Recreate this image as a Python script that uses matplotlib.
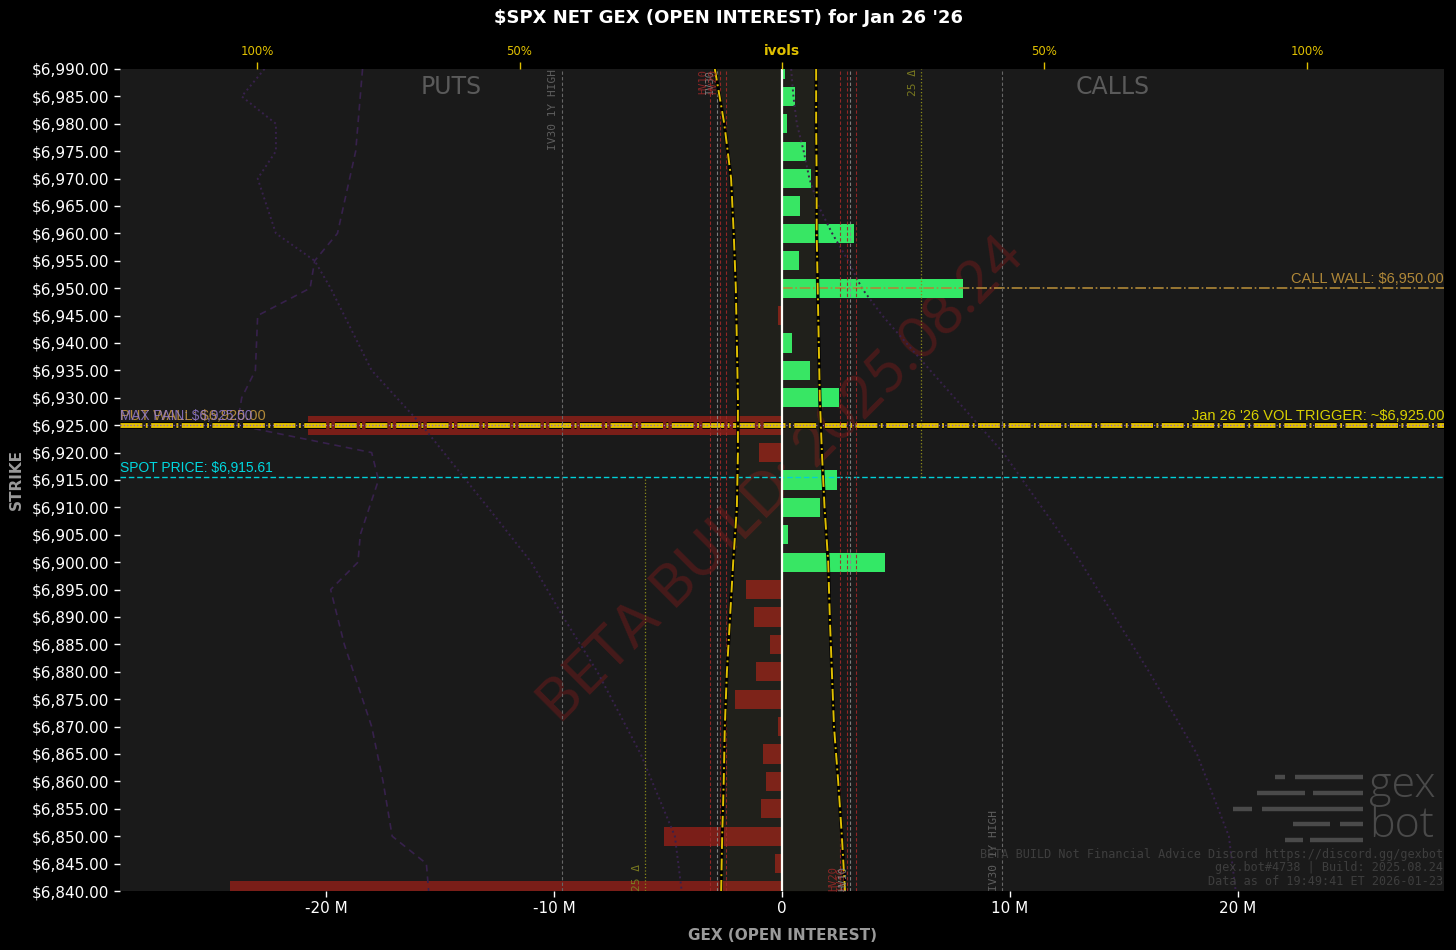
import matplotlib
matplotlib.use("Agg")
import matplotlib.pyplot as plt
import matplotlib.patheffects as pe
from matplotlib.lines import Line2D

plt.rcParams["text.parse_math"] = False

# net gex per strike, in millions
strikes = list(range(6990, 6835, -5))
gex = [0.14, 0.57, 0.23, 1.05, 1.26, 0.80, 3.17, 0.73, 7.94, -0.18,
       0.44, 1.23, 2.50, -20.8, -1.00, 2.41, 1.67, 0.26, 4.52, -1.58,
       -1.23, -0.53, -1.14, -2.06, -0.16, -0.85, -0.70, -0.92, -5.18, -0.31,
       -24.2]

# implied vols (percent), puts drawn to the left
iv_strikes = [6990, 6980, 6970, 6960, 6950, 6940, 6930, 6920,
              6910, 6900, 6890, 6880, 6870, 6860, 6850, 6840]
put_iv = [12.8, 11.0, 9.7, 9.2, 8.8, 8.6, 8.4, 8.4, 8.6, 9.3, 9.9, 10.5, 10.9, 11.1, 11.4, 11.6]
call_iv = [6.5, 6.5, 6.6, 6.6, 6.8, 7.0, 7.2, 7.6, 8.1, 8.8, 9.1, 9.5, 9.9, 10.7, 11.4, 12.0]

# faint purple profiles (millions)
dash_strikes = [6990, 6975, 6960, 6955, 6950, 6945, 6935, 6930, 6925, 6920, 6915,
                6905, 6900, 6895, 6885, 6880, 6870, 6860, 6850, 6845, 6840]
dash_vals = [-18.4, -18.7, -19.5, -20.5, -20.7, -23.0, -23.1, -23.7, -23.9, -18.0, -17.7,
             -18.5, -18.6, -19.8, -19.2, -18.8, -18.0, -17.5, -17.1, -15.6, -15.5]
dot_l_strikes = [6990, 6985, 6980, 6975, 6970, 6960, 6955, 6950, 6935, 6925,
                 6910, 6900, 6890, 6880, 6865, 6855, 6850, 6840]
dot_l_vals = [-22.7, -23.7, -22.2, -22.2, -23.0, -22.2, -20.5, -19.8, -18.0, -15.8,
              -12.9, -11.0, -9.6, -8.1, -6.2, -5.2, -4.7, -4.4]
dot_r_strikes = [6990, 6985, 6980, 6975, 6970, 6965, 6960, 6955, 6950, 6945,
                 6935, 6920, 6900, 6880, 6865, 6850, 6840]
dot_r_vals = [0.40, 0.50, 0.65, 0.95, 1.20, 1.60, 2.20, 2.90, 3.50, 4.40,
              6.50, 9.70, 13.1, 16.1, 18.2, 19.6, 19.9]

spot = 6915.61
call_wall = 6950
put_wall = 6925
max_pain = 6925
vol_trigger = 6925
iv30_1y_high = 42.0
delta25_put, delta25_call = -26.1, 26.5
put_vol_lines = [(-13.7, "#a02828", "HV10"), (-12.4, "#8a8a8a", "IV30"),
                 (-11.8, "#a02828", "HV20"), (-10.7, "#a02828", "")]
call_vol_lines = [(11.0, "#a02828", "HV20"), (12.4, "#a02828", "IV30"),
                  (13.0, "#8a8a8a", "HV10"), (14.1, "#a02828", "")]

BG = "#1a1a1a"
GREEN = "#33e866"
RED = "#7a1e18"
YEL = "#e0c000"

fig = plt.figure(figsize=(14.56, 9.5), dpi=100, facecolor="black")
ax = fig.add_axes([0.0824, 0.0621, 0.9094, 0.8653])
ax.set_facecolor(BG)
xl = 29.04
ax.set_xlim(-xl, xl)
ax.set_ylim(6840, 6990)

colors = [GREEN if v >= 0 else RED for v in gex]
ax.barh(strikes, gex, height=3.5, color=colors, zorder=2)

ax.axvline(0, color="white", lw=1.6, zorder=6)

# watermark
ax.text(0.5, 0.5, "BETA BUILD: 2025.08.24", transform=ax.transAxes, rotation=45,
        ha="center", va="center", fontsize=42, color="#461a1a", zorder=1,
        family="Lato", fontweight="normal")
ax.text(0.25, 0.978, "PUTS", transform=ax.transAxes, ha="center", va="center",
        fontsize=17, color="#5a5a5a")
ax.text(0.75, 0.978, "CALLS", transform=ax.transAxes, ha="center", va="center",
        fontsize=17, color="#5a5a5a")

# purple profiles
ax.plot(dash_vals, dash_strikes, color="#37214c", lw=1.2, ls=(0, (4, 3)), zorder=3)
ax.plot(dot_l_vals, dot_l_strikes, color="#37214c", lw=1.4, ls=":", zorder=3)
ax.plot(dot_r_vals, dot_r_strikes, color="#37214c", lw=1.4, ls=":", zorder=3)

# key levels
ax.axhline(spot, color="#00d0d8", lw=1.0, ls=(0, (4, 2)), zorder=4)
ax.text(0.0, spot + 0.3, f"SPOT PRICE: ${spot:,.2f}", transform=ax.get_yaxis_transform(),
        ha="left", va="bottom", color="#00d8e0", fontsize=10, family="Liberation Sans")

ax.axhline(call_wall, xmin=0.5, color="#b08838", lw=1.2, ls="-.", zorder=4)
ax.text(1.0, call_wall + 0.4, f"CALL WALL: ${call_wall:,.2f}", transform=ax.get_yaxis_transform(),
        ha="right", va="bottom", color="#b08838", fontsize=10.5, family="Liberation Sans")

ax.axhline(vol_trigger, color=YEL, lw=3.5, ls=(0, (4.5, 0.7, 0.4, 0.7)), zorder=5,
           path_effects=[pe.Stroke(linewidth=5, foreground="black"), pe.Normal()])
ax.axhline(put_wall, color="#8a5cd0", lw=0.9, ls=":", zorder=5)
ax.text(1.0, vol_trigger + 0.4, f"Jan 26 '26 VOL TRIGGER: ~${vol_trigger:,.2f}",
        transform=ax.get_yaxis_transform(), ha="right", va="bottom", color="#d8d000",
        fontsize=10.5, family="Liberation Sans", zorder=7)
# put wall and max pain labels sit on the same spot, as in the source
ax.text(0.0, put_wall + 0.4, f"PUT WALL: ${put_wall:,.2f}", transform=ax.get_yaxis_transform(),
        ha="left", va="bottom", color="#b08838", fontsize=10.5, family="Liberation Sans", zorder=7)
ax.text(0.0, max_pain + 0.4, f"MAX PAIN: ${max_pain:,.2f}", transform=ax.get_yaxis_transform(),
        ha="left", va="bottom", color="#9a80d8", fontsize=9.8, family="Liberation Sans",
        alpha=0.8, zorder=7)

# axes styling
for s in ax.spines.values():
    s.set_visible(False)
ax.set_yticks(list(range(6840, 6991, 5)))
ax.set_yticklabels([f"${v:,.2f}" for v in range(6840, 6991, 5)])
ax.set_xticks([-20, -10, 0, 10, 20])
ax.set_xticklabels(["-20 M", "-10 M", "0", "10 M", "20 M"])
ax.tick_params(axis="both", colors="white", labelsize=11, length=4, width=1)
ax.set_ylabel("STRIKE", color="#9a9a9a", fontsize=11, fontweight="bold", labelpad=6)
ax.set_xlabel("GEX (OPEN INTEREST)", color="#9a9a9a", fontsize=11, fontweight="bold", labelpad=8)

# ivol axis
ax2 = ax.twiny()
ivl = xl * 22.8 / 5.25
ax2.set_xlim(-ivl, ivl)
for s in ax2.spines.values():
    s.set_visible(False)
ax2.set_xticks([-100, -50, 0, 50, 100])
ax2.set_xticklabels(["100%", "50%", "ivols", "50%", "100%"])
ax2.tick_params(axis="x", colors=YEL, labelsize=8.5, length=5, width=1, pad=3)
for lab in ax2.get_xticklabels():
    if lab.get_text() == "ivols":
        lab.set_fontweight("bold")
        lab.set_fontsize(10)

neg_put = [-v for v in put_iv]
ax2.fill_betweenx(iv_strikes, neg_put, call_iv, color="#d8c840", alpha=0.035, lw=0, zorder=1)
for xs in (neg_put, call_iv):
    ax2.plot(xs, iv_strikes, color="black", lw=2.4, zorder=3)
    ax2.plot(xs, iv_strikes, color=YEL, lw=1.4, ls=(0, (6, 2, 1, 2)), zorder=3)

for x, c, lab in put_vol_lines:
    ax2.axvline(x, color=c, lw=0.8, ls=(0, (3, 2)), zorder=2, alpha=0.9)
    if lab:
        ax2.text(x - 0.3, 6990, lab, rotation=90, ha="right", va="top", fontsize=7.5,
                 color=c, family="DejaVu Sans Mono", alpha=0.85)
for x, c, lab in call_vol_lines:
    ax2.axvline(x, color=c, lw=0.8, ls=(0, (3, 2)), zorder=2, alpha=0.9)
    if lab:
        ax2.text(x - 0.3, 6840, lab, rotation=90, ha="right", va="bottom", fontsize=7.5,
                 color=c, family="DejaVu Sans Mono", alpha=0.85)

for x, va, y in ((-iv30_1y_high, "top", 6990), (iv30_1y_high, "bottom", 6840)):
    ax2.axvline(x, color="#666666", lw=0.8, ls=(0, (3, 2)), zorder=2)
    ax2.text(x - 0.6, y, "IV30 1Y HIGH", rotation=90, ha="right", va=va, fontsize=8,
             color="#5e5e5e", family="DejaVu Sans Mono")

ax2.vlines(delta25_call, spot, 6990, color="#8a8a1a", lw=0.9, ls=":", zorder=2)
ax2.text(delta25_call - 0.6, 6990, "25 Δ", rotation=90, ha="right", va="top", fontsize=8,
         color="#7a7a20", family="DejaVu Sans Mono")
ax2.vlines(delta25_put, 6840, spot, color="#8a8a1a", lw=0.9, ls=":", zorder=2)
ax2.text(delta25_put - 0.6, 6840, "25 Δ", rotation=90, ha="right", va="bottom", fontsize=8,
         color="#7a7a20", family="DejaVu Sans Mono")

# footer text
foot = ["BETA BUILD Not Financial Advice Discord https://discord.gg/gexbot",
        "gex.bot#4738 | Build: 2025.08.24",
        "Data as of 19:49:41 ET 2026-01-23"]
for i, line in enumerate(foot):
    ax2.text(0.999, 0.045 - i * 0.0168, line, transform=ax2.transAxes, ha="right", va="center",
             fontsize=8.5, color="#3e3e3e", family="DejaVu Sans Mono", zorder=8)

# gexbot logo
logo_rows = [(777, [(1275, 1285), (1295, 1363)]),
             (793, [(1257, 1305), (1313, 1363)]),
             (809, [(1233, 1252), (1262, 1363)]),
             (824, [(1293, 1330), (1340, 1363)]),
             (840, [(1285, 1303), (1310, 1363)])]
W, H = 1456, 950
for yy, segs in logo_rows:
    for x0, x1 in segs:
        fig.add_artist(Line2D([x0 / W, x1 / W], [1 - yy / H, 1 - yy / H], color="#4a4a4a",
                              lw=3.2, solid_capstyle="butt"))
fig.text(1402 / W, 1 - 786 / H, "gex", ha="center", va="center", fontsize=31,
         color="#4a4a4a", family="Open Sans", fontweight="light")
fig.text(1402 / W, 1 - 826 / H, "bot", ha="center", va="center", fontsize=31,
         color="#4a4a4a", family="Open Sans", fontweight="light")

fig.text(0.5, 1 - 18 / H, "$SPX NET GEX (OPEN INTEREST) for Jan 26 '26", ha="center",
         va="center", color="white", fontsize=13, fontweight="bold")

fig.savefig("out.png", dpi=100, facecolor="black")
